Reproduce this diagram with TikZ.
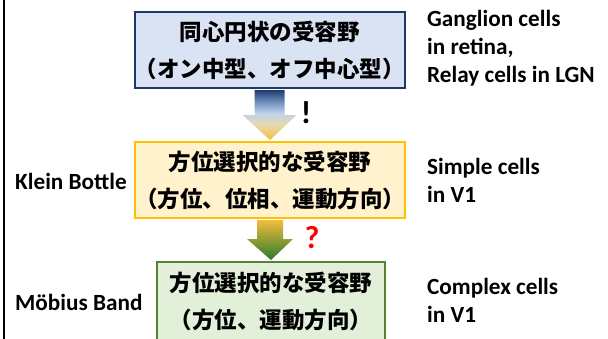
\documentclass[tikz,border=0pt]{standalone}
\usepackage{fontspec}
\setmainfont{Carlito}
\newfontfamily\jp{Noto Sans CJK JP}
\usetikzlibrary{calc}
\definecolor{bluefill}{HTML}{DAE3F3}
\definecolor{blueline}{HTML}{203864}
\definecolor{yelfill}{HTML}{FFF2CC}
\definecolor{yelline}{HTML}{FFC000}
\definecolor{grnfill}{HTML}{E2F0D9}
\definecolor{grnline}{HTML}{548235}
\definecolor{navy}{HTML}{1F3A6E}
\definecolor{mblue}{HTML}{6F8FC0}
\definecolor{lblue}{HTML}{BDD3EA}
\definecolor{beige}{HTML}{E8DAAE}
\definecolor{gold}{HTML}{F2BE3C}
\definecolor{dgreen}{HTML}{2A7A2A}
\definecolor{qred}{HTML}{FF0000}
\pgfdeclareverticalshading{arrone}{100bp}{color(0bp)=(gold); color(25bp)=(gold); color(40bp)=(beige); color(52bp)=(lblue); color(63bp)=(mblue); color(75bp)=(navy); color(100bp)=(navy)}
\tikzset{
  box/.style={draw, line width=2pt, align=center, inner sep=0pt,
    font=\jp\bfseries\fontsize{22.5}{37}\selectfont},
  lab/.style={font=\bfseries\fontsize{23.2}{27.8}\selectfont, align=left, inner sep=0pt, anchor=west},
}
\begin{document}
\begin{tikzpicture}[x=1pt,y=-1pt]
\useasboundingbox (0,0) rectangle (608,338);
\fill[white] (0,0) rectangle (608,338);
\draw[line width=2.5pt] (4,-5) -- (4,345);
\node[box, fill=bluefill, draw=blueline, minimum width=259, minimum height=76] (b1) at (269.5,50)
  {同心円状の受容野\\（オン中型、オフ中心型）};
\node[box, fill=yelfill, draw=yelline, minimum width=262, minimum height=76] (b2) at (270,180)
  {方位選択的な受容野\\（方位、位相、運動方向）};
\node[box, fill=grnfill, draw=grnline, minimum width=228, minimum height=78] (b3) at (271,301)
  {方位選択的な受容野\\（方位、運動方向）};
% block arrows
\shade[shading=arrone]
  ($(b1.south)+(-15,1)$) -- ($(b1.south)+(-15,26)$) -- ($(b1.south)+(-27,26)$)
  -- ($(b2.north)+(0,-1)$) -- ($(b1.south)+(27,26)$) -- ($(b1.south)+(15,26)$)
  -- ($(b1.south)+(15,1)$) -- cycle;
\shade[top color=gold, bottom color=dgreen]
  ($(b2.south)+(-13,1)$) -- ($(b2.south)+(-13,20)$) -- ($(b2.south)+(-23,20)$)
  -- ($(b3.north)+(0,-1)$) -- ($(b2.south)+(23,20)$) -- ($(b2.south)+(13,20)$)
  -- ($(b2.south)+(13,1)$) -- cycle;
\node[font=\bfseries\fontsize{32}{32}\selectfont, inner sep=0pt] (ex) at (306,113) {!};
\node[font=\bfseries\fontsize{32}{32}\selectfont, text=qred, inner sep=0pt] (qm) at (312,238) {?};
% labels
\node[lab] (kb) at (15,181) {Klein Bottle};
\node[lab] (mb) at (15,302) {Möbius Band};
\node[lab] (g) at (427,48) {Ganglion cells\\in retina,\\Relay cells in LGN};
\node[lab] (s) at (427,180) {Simple cells\\in V1};
\node[lab] (c) at (427,300) {Complex cells\\in V1};
\end{tikzpicture}
\end{document}
